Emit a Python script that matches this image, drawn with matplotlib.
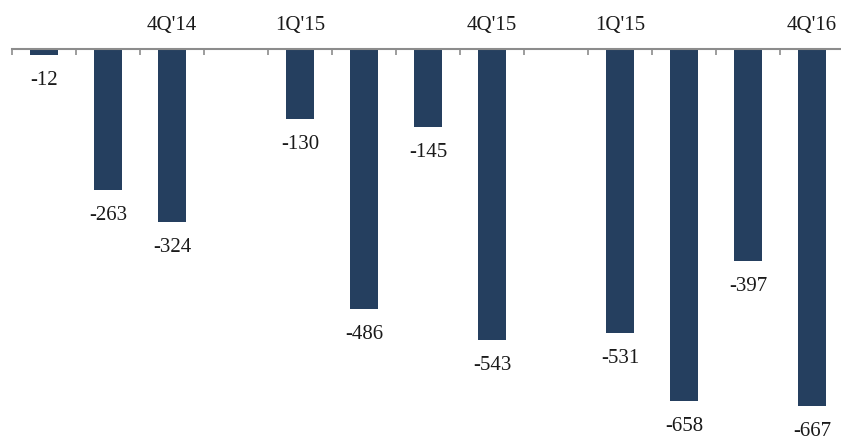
import matplotlib.pyplot as plt

# slots 3 and 8 are left empty in the original chart
slots = [0, 1, 2, 4, 5, 6, 7, 9, 10, 11, 12]
values = [-12, -263, -324, -130, -486, -145, -543, -531, -658, -397, -667]
period_slots = [2, 4, 7, 9, 12]
period_labels = ["4Q'14", "1Q'15", "4Q'15", "1Q'15", "4Q'16"]

plt.rcParams['font.family'] = ['Liberation Serif', 'DejaVu Serif']

W, H = 841, 438
fig = plt.figure(figsize=(W / 100, H / 100), dpi=100)
ax = fig.add_axes([12 / W, 0, 832 / W, 389 / H])

ax.bar(slots, values, width=0.45, color='#253f5f')

ax.set_xlim(-0.5, 12.5)
ax.set_ylim(-727, 0)

for s in ['left', 'right', 'bottom']:
    ax.spines[s].set_visible(False)
ax.spines['top'].set_color('#8c8c8c')
ax.spines['top'].set_linewidth(1.5)
ax.xaxis.tick_top()
ax.set_xticks([i - 0.5 for i in range(14)])
ax.tick_params(axis='x', direction='in', length=4, width=1.2, color='#8c8c8c', labeltop=False)
ax.set_yticks([])

for x, v in zip(slots, values):
    ax.annotate(str(v), (x, v), xytext=(0, -16), textcoords='offset pixels',
                ha='center', va='top', fontsize=15, color='#1a1a1a')

for x, lab in zip(period_slots, period_labels):
    ax.annotate(lab, (x, 0), xytext=(0, 14), textcoords='offset pixels',
                ha='center', va='bottom', fontsize=15, color='#1a1a1a',
                annotation_clip=False)

fig.savefig('out.png', dpi=100)
